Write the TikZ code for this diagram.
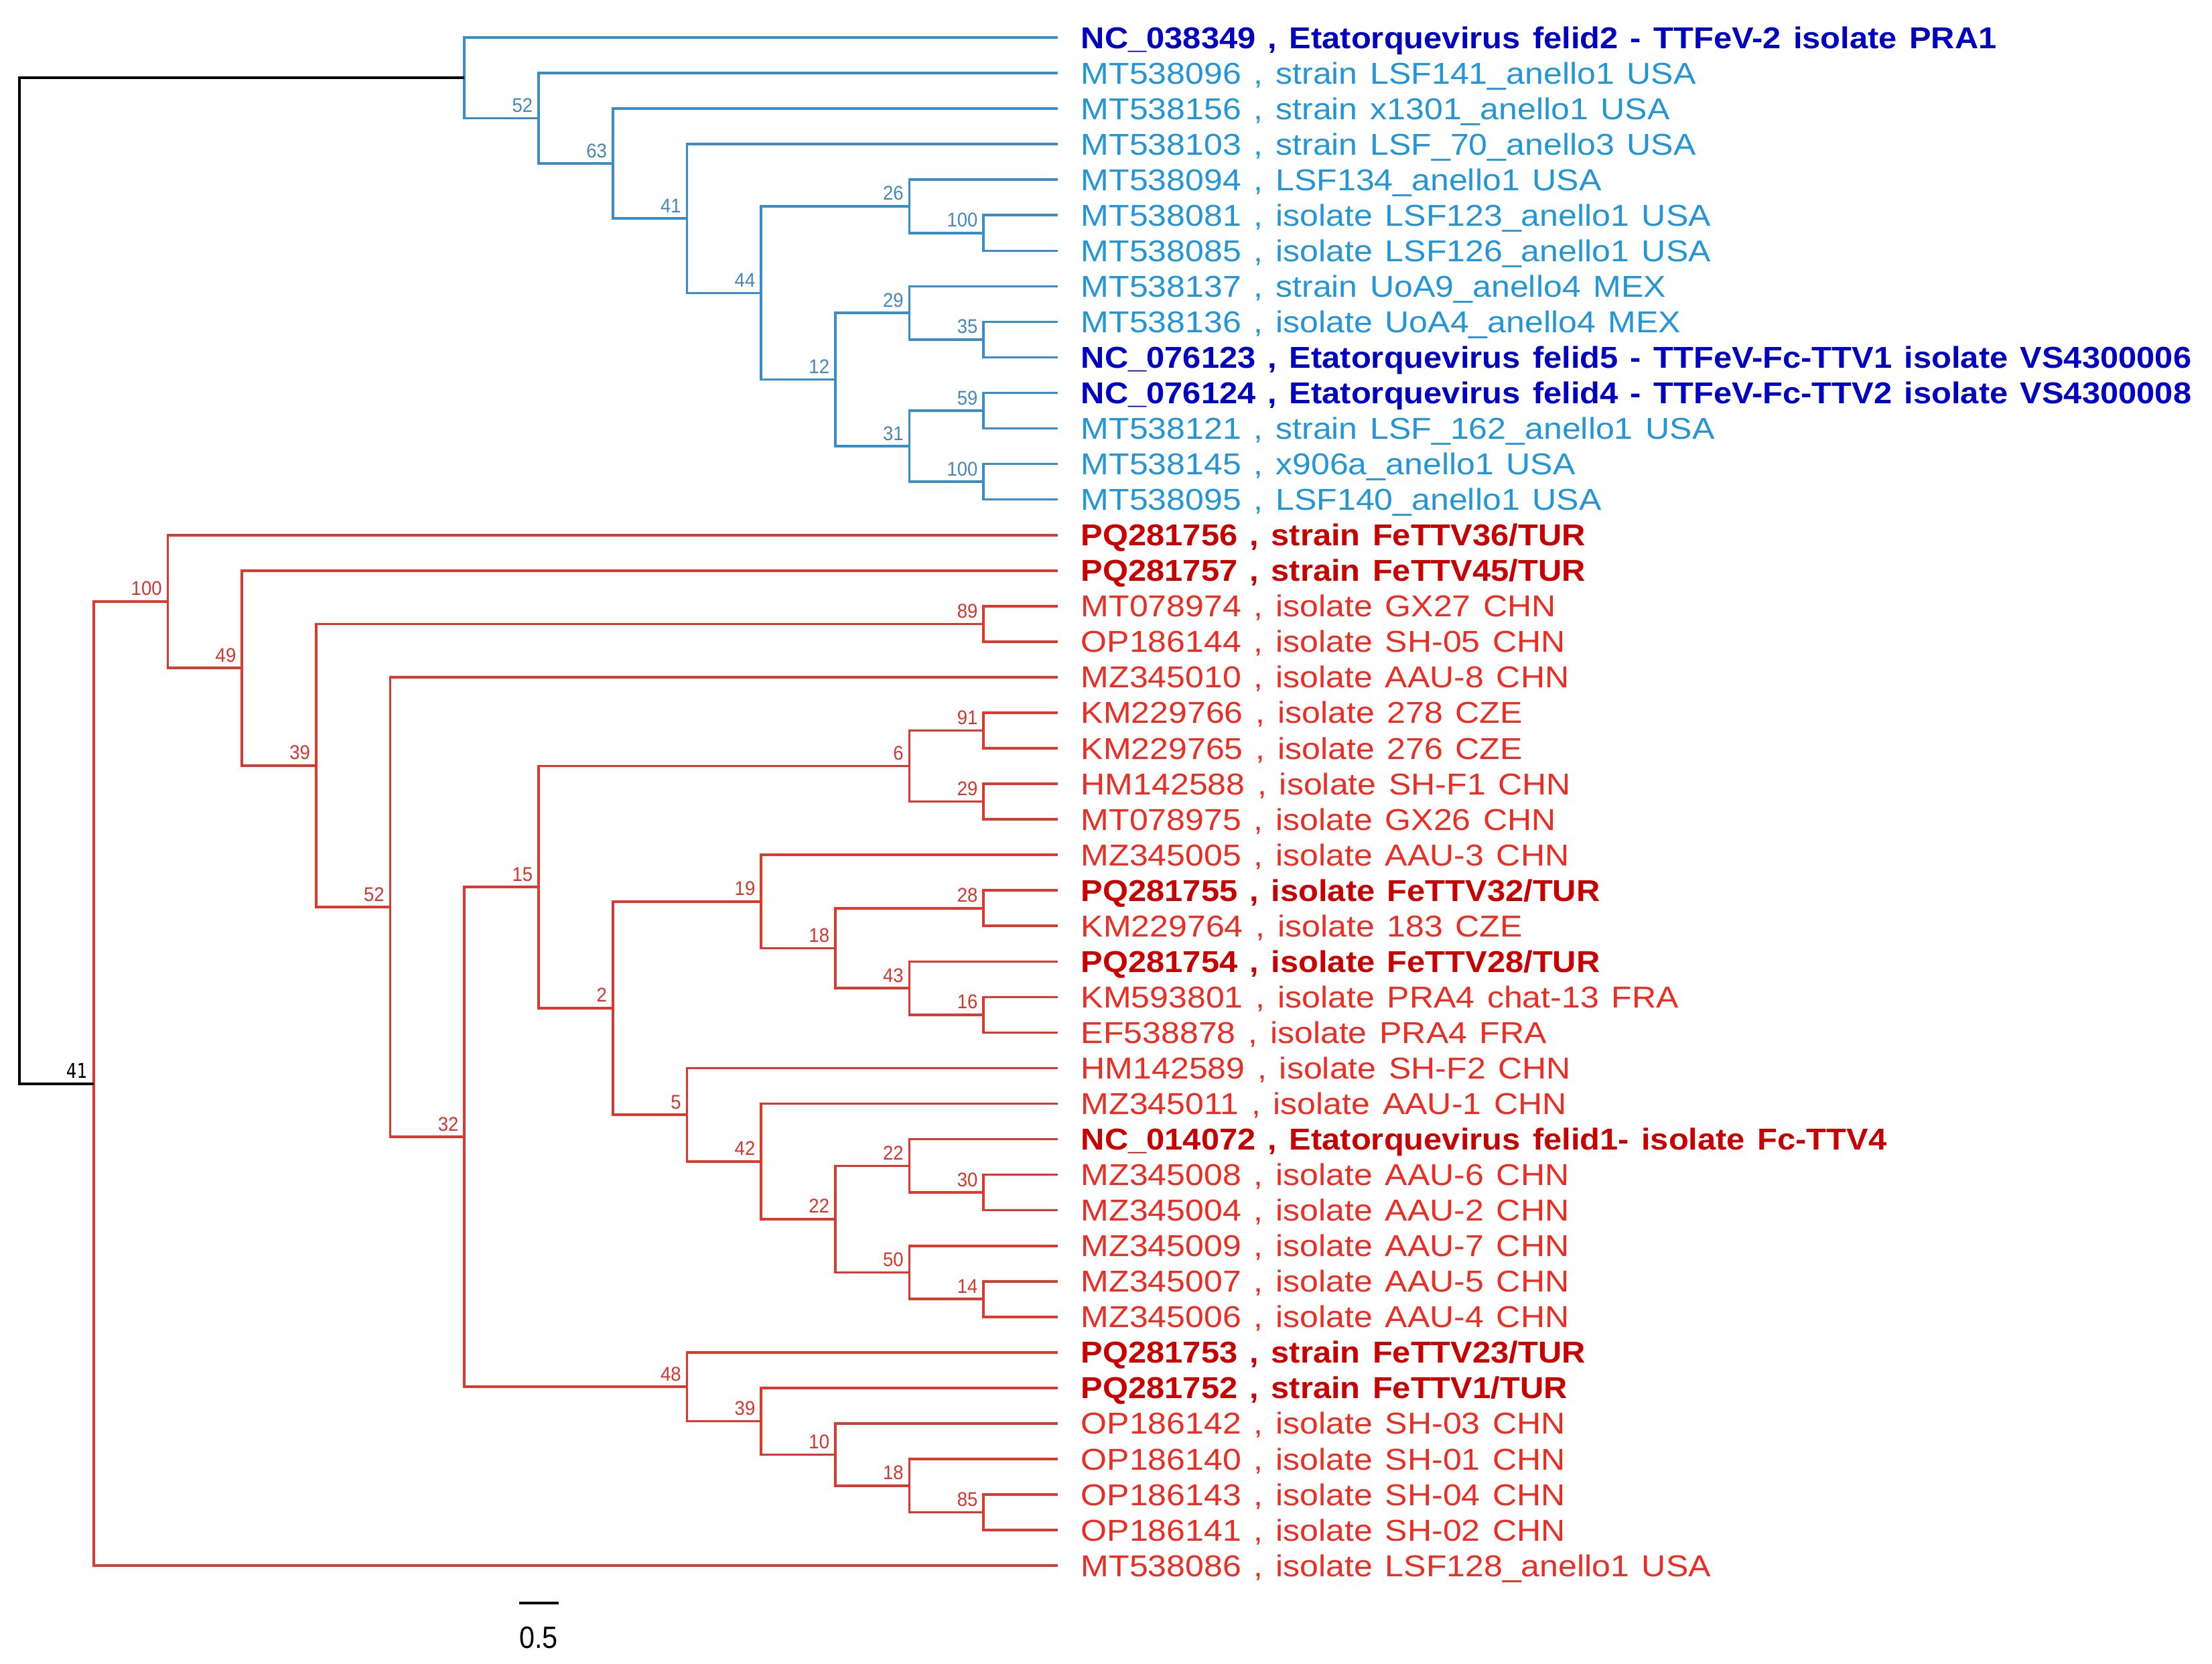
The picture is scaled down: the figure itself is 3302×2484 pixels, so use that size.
\documentclass[tikz,border=0pt]{standalone}
\usepackage{fontspec}
\setmainfont{Liberation Sans}
\newfontfamily\leaffont[WordSpace=1.35]{Liberation Sans}
\newfontfamily\monofnt{DejaVu Sans Mono}
\definecolor{bline}{RGB}{55,142,200}
\definecolor{bnum}{RGB}{70,135,185}
\definecolor{btext}{RGB}{35,150,215}
\definecolor{bbold}{RGB}{0,0,195}
\definecolor{rline}{RGB}{222,55,45}
\definecolor{rnum}{RGB}{210,55,45}
\definecolor{rtext}{RGB}{235,45,35}
\definecolor{rbold}{RGB}{200,0,0}
\newcommand\leaf[3]{%
  \coordinate (t#1) at ({29+14*110.714},{56+(#1-1)*53.05});
  \node[#2] (L#1) at ({1613},{56+(#1-1)*53.05+16}) {#3};}
\newcommand\inode[5]{%
  \coordinate (#1) at ({29+#2*110.714},{56+(#3-1)*53.05});
  \node[#5] (s#1) at ({29+#2*110.714-8},{56+(#3-1)*53.05-9}) {\scalebox{0.93}[1]{#4}};}
\newcommand\br[4]{\draw[#1] (#2) |- (#3) (#2) |- (#4);}
\newcommand\rg[1]{\scalebox{1.112}[1]{#1}}
\newcommand\bd[1]{\scalebox{1.086}[1]{#1}}
\begin{document}
\begin{tikzpicture}[x=0.25pt,y=-0.25pt,
  leaftxt/.style={anchor=base west, inner sep=0pt, font=\leaffont\fontsize{11.25}{13}\selectfont},
  lb/.style={leaftxt, text=btext},
  bb/.style={leaftxt, text=bbold, font=\leaffont\fontsize{11.25}{13}\selectfont\bfseries},
  lr/.style={leaftxt, text=rtext},
  brd/.style={leaftxt, text=rbold, font=\leaffont\fontsize{11.25}{13}\selectfont\bfseries},
  bsb/.style={anchor=base east, inner sep=0pt, text=bnum, font=\fontsize{7.4}{9}\selectfont},
  bsr/.style={anchor=base east, inner sep=0pt, text=rnum, font=\fontsize{7.4}{9}\selectfont},
  bsk/.style={anchor=base east, inner sep=0pt, text=black, font=\monofnt\fontsize{7.6}{9}\selectfont},
  bbr/.style={draw=bline, line width=0.9pt},
  rbr/.style={draw=rline, line width=0.9pt},
  kbr/.style={draw=black, line width=1pt}]
\useasboundingbox (0,0) rectangle (3302,2484);
% leaves
\leaf{1}{bb}{\bd{NC\_038349 , Etatorquevirus felid2 - TTFeV-2 isolate PRA1}}
\leaf{2}{lb}{\rg{MT538096 , strain LSF141\_anello1 USA}}
\leaf{3}{lb}{\rg{MT538156 , strain x1301\_anello1 USA}}
\leaf{4}{lb}{\rg{MT538103 , strain LSF\_70\_anello3 USA}}
\leaf{5}{lb}{\rg{MT538094 , LSF134\_anello1 USA}}
\leaf{6}{lb}{\rg{MT538081 , isolate LSF123\_anello1 USA}}
\leaf{7}{lb}{\rg{MT538085 , isolate LSF126\_anello1 USA}}
\leaf{8}{lb}{\rg{MT538137 , strain UoA9\_anello4 MEX}}
\leaf{9}{lb}{\rg{MT538136 , isolate UoA4\_anello4 MEX}}
\leaf{10}{bb}{\bd{NC\_076123 , Etatorquevirus felid5 - TTFeV-Fc-TTV1 isolate VS4300006}}
\leaf{11}{bb}{\bd{NC\_076124 , Etatorquevirus felid4 - TTFeV-Fc-TTV2 isolate VS4300008}}
\leaf{12}{lb}{\rg{MT538121 , strain LSF\_162\_anello1 USA}}
\leaf{13}{lb}{\rg{MT538145 , x906a\_anello1 USA}}
\leaf{14}{lb}{\rg{MT538095 , LSF140\_anello1 USA}}
\leaf{15}{brd}{\bd{PQ281756 , strain FeTTV36/TUR}}
\leaf{16}{brd}{\bd{PQ281757 , strain FeTTV45/TUR}}
\leaf{17}{lr}{\rg{MT078974 , isolate GX27 CHN}}
\leaf{18}{lr}{\rg{OP186144 , isolate SH-05 CHN}}
\leaf{19}{lr}{\rg{MZ345010 , isolate AAU-8 CHN}}
\leaf{20}{lr}{\rg{KM229766 , isolate 278 CZE}}
\leaf{21}{lr}{\rg{KM229765 , isolate 276 CZE}}
\leaf{22}{lr}{\rg{HM142588 , isolate SH-F1 CHN}}
\leaf{23}{lr}{\rg{MT078975 , isolate GX26 CHN}}
\leaf{24}{lr}{\rg{MZ345005 , isolate AAU-3 CHN}}
\leaf{25}{brd}{\bd{PQ281755 , isolate FeTTV32/TUR}}
\leaf{26}{lr}{\rg{KM229764 , isolate 183 CZE}}
\leaf{27}{brd}{\bd{PQ281754 , isolate FeTTV28/TUR}}
\leaf{28}{lr}{\rg{KM593801 , isolate PRA4 chat-13 FRA}}
\leaf{29}{lr}{\rg{EF538878 , isolate PRA4 FRA}}
\leaf{30}{lr}{\rg{HM142589 , isolate SH-F2 CHN}}
\leaf{31}{lr}{\rg{MZ345011 , isolate AAU-1 CHN}}
\leaf{32}{brd}{\bd{NC\_014072 , Etatorquevirus felid1- isolate Fc-TTV4}}
\leaf{33}{lr}{\rg{MZ345008 , isolate AAU-6 CHN}}
\leaf{34}{lr}{\rg{MZ345004 , isolate AAU-2 CHN}}
\leaf{35}{lr}{\rg{MZ345009 , isolate AAU-7 CHN}}
\leaf{36}{lr}{\rg{MZ345007 , isolate AAU-5 CHN}}
\leaf{37}{lr}{\rg{MZ345006 , isolate AAU-4 CHN}}
\leaf{38}{brd}{\bd{PQ281753 , strain FeTTV23/TUR}}
\leaf{39}{brd}{\bd{PQ281752 , strain FeTTV1/TUR}}
\leaf{40}{lr}{\rg{OP186142 , isolate SH-03 CHN}}
\leaf{41}{lr}{\rg{OP186140 , isolate SH-01 CHN}}
\leaf{42}{lr}{\rg{OP186143 , isolate SH-04 CHN}}
\leaf{43}{lr}{\rg{OP186141 , isolate SH-02 CHN}}
\leaf{44}{lr}{\rg{MT538086 , isolate LSF128\_anello1 USA}}
% blue clade nodes
\inode{b100a}{13}{6.5}{100}{bsb}
\inode{b26}{12}{5.75}{26}{bsb}
\inode{b35}{13}{9.5}{35}{bsb}
\inode{b29}{12}{8.75}{29}{bsb}
\inode{b59}{13}{11.5}{59}{bsb}
\inode{b100b}{13}{13.5}{100}{bsb}
\inode{b31}{12}{12.5}{31}{bsb}
\inode{b12}{11}{10.625}{12}{bsb}
\inode{b44}{10}{8.1875}{44}{bsb}
\inode{b41}{9}{6.09375}{41}{bsb}
\inode{b63}{8}{4.546875}{63}{bsb}
\inode{b52}{7}{3.2734375}{52}{bsb}
\coordinate (bnode) at ({29+6*110.714},{56+1.13671875*53.05});
% red clade nodes
\inode{r89}{13}{17.5}{89}{bsr}
\inode{r91}{13}{20.5}{91}{bsr}
\inode{r29}{13}{22.5}{29}{bsr}
\inode{r6}{12}{21.5}{6}{bsr}
\inode{r28}{13}{25.5}{28}{bsr}
\inode{r16}{13}{28.5}{16}{bsr}
\inode{r43}{12}{27.75}{43}{bsr}
\inode{r18a}{11}{26.625}{18}{bsr}
\inode{r19}{10}{25.3125}{19}{bsr}
\inode{r30}{13}{33.5}{30}{bsr}
\inode{r22a}{12}{32.75}{22}{bsr}
\inode{r14}{13}{36.5}{14}{bsr}
\inode{r50}{12}{35.75}{50}{bsr}
\inode{r22b}{11}{34.25}{22}{bsr}
\inode{r42}{10}{32.625}{42}{bsr}
\inode{r5}{9}{31.3125}{5}{bsr}
\inode{r2}{8}{28.3125}{2}{bsr}
\inode{r15}{7}{24.90625}{15}{bsr}
\inode{r85}{13}{42.5}{85}{bsr}
\inode{r18b}{12}{41.75}{18}{bsr}
\inode{r10}{11}{40.875}{10}{bsr}
\inode{r39b}{10}{39.9375}{39}{bsr}
\inode{r48}{9}{38.96875}{48}{bsr}
\inode{r32}{6}{31.9375}{32}{bsr}
\inode{r52}{5}{25.46875}{52}{bsr}
\inode{r39a}{4}{21.484375}{39}{bsr}
\inode{r49}{3}{18.7421875}{49}{bsr}
\inode{r100}{2}{16.87109375}{100}{bsr}
\coordinate (r41) at ({29+110.714},{56+29.435546875*53.05});
\node[bsk] (sr41) at ({29+110.714-9},{56+29.435546875*53.05-8}) {\scalebox{0.85}[1]{41}};
\coordinate (root) at (29,{56+15.7861328125*53.05});
% blue branches
\br{bbr}{b100a}{t6}{t7}
\br{bbr}{b26}{t5}{b100a}
\br{bbr}{b35}{t9}{t10}
\br{bbr}{b29}{t8}{b35}
\br{bbr}{b59}{t11}{t12}
\br{bbr}{b100b}{t13}{t14}
\br{bbr}{b31}{b59}{b100b}
\br{bbr}{b12}{b29}{b31}
\br{bbr}{b44}{b26}{b12}
\br{bbr}{b41}{t4}{b44}
\br{bbr}{b63}{t3}{b41}
\br{bbr}{b52}{t2}{b63}
\br{bbr}{bnode}{t1}{b52}
% red branches
\br{rbr}{r89}{t17}{t18}
\br{rbr}{r91}{t20}{t21}
\br{rbr}{r29}{t22}{t23}
\br{rbr}{r6}{r91}{r29}
\br{rbr}{r28}{t25}{t26}
\br{rbr}{r16}{t28}{t29}
\br{rbr}{r43}{t27}{r16}
\br{rbr}{r18a}{r28}{r43}
\br{rbr}{r19}{t24}{r18a}
\br{rbr}{r30}{t33}{t34}
\br{rbr}{r22a}{t32}{r30}
\br{rbr}{r14}{t36}{t37}
\br{rbr}{r50}{t35}{r14}
\br{rbr}{r22b}{r22a}{r50}
\br{rbr}{r42}{t31}{r22b}
\br{rbr}{r5}{t30}{r42}
\br{rbr}{r2}{r19}{r5}
\br{rbr}{r15}{r6}{r2}
\br{rbr}{r85}{t42}{t43}
\br{rbr}{r18b}{t41}{r85}
\br{rbr}{r10}{t40}{r18b}
\br{rbr}{r39b}{t39}{r10}
\br{rbr}{r48}{t38}{r39b}
\br{rbr}{r32}{r15}{r48}
\br{rbr}{r52}{t19}{r32}
\br{rbr}{r39a}{r89}{r52}
\br{rbr}{r49}{t16}{r39a}
\br{rbr}{r100}{t15}{r49}
\br{rbr}{r41}{r100}{t44}
% root
\br{kbr}{root}{bnode}{r41}
% scale bar
\coordinate (sb1) at (775,2393);
\coordinate (sb2) at (834,2393);
\draw[kbr] (sb1) -- (sb2);
\node[inner sep=0pt, font=\fontsize{11.5}{13}\selectfont] (sbl) at (804,2445) {\scalebox{0.9}[1]{0.5}};
\end{tikzpicture}
\end{document}
